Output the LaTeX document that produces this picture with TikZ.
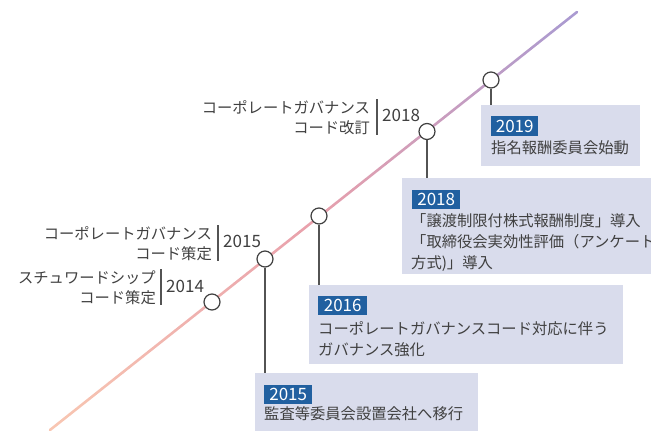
\documentclass[tikz,border=0pt]{standalone}
\usepackage{fontspec}
\setmainfont{Noto Sans CJK JP}
\definecolor{txt}{HTML}{404040}
\definecolor{boxfill}{HTML}{D9DCEC}
\definecolor{tagfill}{HTML}{2160A0}
\definecolor{gpeach}{HTML}{F8C6B2}
\definecolor{gpink}{HTML}{E8A0AC}
\definecolor{gviolet}{HTML}{A89AD2}
\newcommand\jpsz{\fontsize{15.3}{20}\selectfont}
\newcommand\yrsz{\fontsize{17}{20}\selectfont}
\begin{document}
\begin{tikzpicture}[x=1pt,y=-1pt,
  dot/.style={circle,minimum size=16pt,inner sep=0pt,draw=txt,fill=white,line width=1.2pt},
  infobox/.style={fill=boxfill,draw=none,anchor=north west,inner sep=0pt},
  tag/.style={fill=tagfill,text=white,anchor=north west,inner sep=0pt,font=\yrsz},
  jline/.style={text=txt,inner sep=0pt,font=\jpsz},
  yr/.style={text=txt,inner sep=0pt,font=\yrsz,anchor=base west},
  stem/.style={draw=txt!90,line width=1.2pt},
  sep/.style={draw=txt!90,line width=1.2pt}]
\useasboundingbox (0,0) rectangle (651,431);
% gradient timeline
\foreach \i in {0,...,79}{
  \pgfmathsetmacro{\ta}{\i/80}
  \pgfmathsetmacro{\tb}{(\i+1)/80}
  \pgfmathsetmacro{\xa}{50+527*\ta}
  \pgfmathsetmacro{\ya}{430-418*\ta}
  \pgfmathsetmacro{\xb}{50+527*\tb}
  \pgfmathsetmacro{\yb}{430-418*\tb}
  \pgfmathtruncatemacro{\pa}{min(100,200*\ta)}
  \pgfmathtruncatemacro{\pb}{max(0,200*(\ta-0.5))}
  \ifdim\ta pt<0.5pt
    \colorlet{segc}{gpink!\pa!gpeach}
  \else
    \colorlet{segc}{gviolet!\pb!gpink}
  \fi
  \draw[segc,line width=2.6pt,line cap=round] (\xa,\ya) -- (\xb,\yb);
}
% boxes
\node[infobox,minimum width=159pt,minimum height=61pt] (b2019) at (481,105) {};
\node[infobox,minimum width=260pt,minimum height=96pt] (b2018) at (402,178) {};
\node[infobox,minimum width=314pt,minimum height=79pt] (b2016) at (309,285) {};
\node[infobox,minimum width=223pt,minimum height=60pt] (b2015) at (255,373) {};
% milestones
\node[dot] (c2014) at (212,302) {};
\node[dot] (c2015) at (265,259) {};
\node[dot] (c2016) at (319,216) {};
\node[dot] (c2018) at (427,131.5) {};
\node[dot] (c2019) at (491,80) {};
% stems
\draw[stem] (c2015) -- (c2015 |- b2015.north);
\draw[stem] (c2016) -- (c2016 |- b2016.north);
\draw[stem] (c2018) -- (c2018 |- b2018.north);
\draw[stem] (c2019) -- (c2019 |- b2019.north);
% tags
\node[tag,minimum width=47pt,minimum height=20pt] (t2019) at (491,116) {2019};
\node[tag,minimum width=48pt,minimum height=19pt] (t2018) at (412,190) {2018};
\node[tag,minimum width=49pt,minimum height=19pt] (t2016) at (318,296) {2016};
\node[tag,minimum width=48pt,minimum height=19pt] (t2015) at (264,385) {2015};
% box texts
\node[jline,anchor=base west] (x2019) at (491,153.8) {指名報酬委員会始動};
\node[jline,anchor=base west] (x2018a) at (411,226.1) {「譲渡制限付株式報酬制度」導入};
\node[jline,anchor=base west] (x2018b) at (411,247.4) {「取締役会実効性評価（アンケート};
\node[jline,anchor=base west] (x2018c) at (411,268.7) {方式)」導入};
\node[jline,anchor=base west] (x2016a) at (318,334.1) {コーポレートガバナンスコード対応に伴う};
\node[jline,anchor=base west] (x2016b) at (318,355.5) {ガバナンス強化};
\node[jline,anchor=base west] (x2015) at (264,419.8) {監査等委員会設置会社へ移行};
% left labels
\node[jline,anchor=base east] (l2018a) at (370,113.3) {コーポレートガバナンス};
\node[jline,anchor=base east] (l2018b) at (370,133.5) {コード改訂};
\draw[sep] (377,99) -- (377,135);
\node[yr] (y2018) at (382,121.7) {2018};
\node[jline,anchor=base east] (l2015a) at (212,239.1) {コーポレートガバナンス};
\node[jline,anchor=base east] (l2015b) at (212,259.5) {コード策定};
\draw[sep] (218,225) -- (218,261);
\node[yr] (y2015) at (223,247.3) {2015};
\node[jline,anchor=base east] (l2014a) at (156,283) {スチュワードシップ};
\node[jline,anchor=base east] (l2014b) at (156,303) {コード策定};
\draw[sep] (161,269) -- (161,305);
\node[yr] (y2014) at (166,292.7) {2014};
\end{tikzpicture}
\end{document}
